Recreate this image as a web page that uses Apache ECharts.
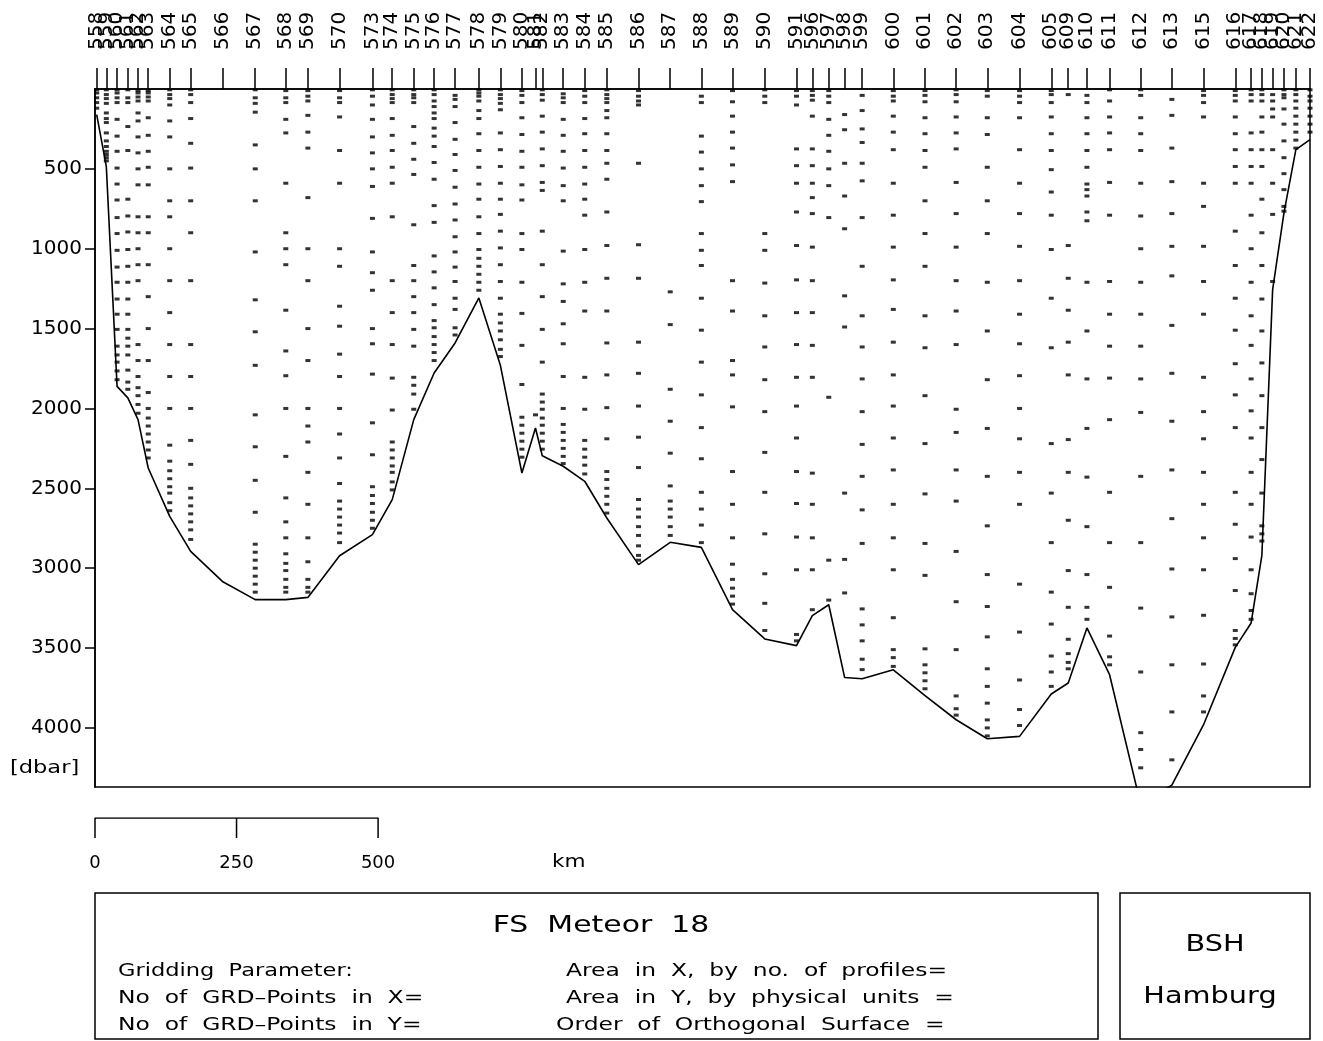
<!DOCTYPE html>
<html>
<head>
<meta charset="utf-8">
<script src="https://cdn.jsdelivr.net/npm/echarts@6/dist/echarts.min.js"></script>
<style>
html,body{margin:0;padding:0;background:#fff;}
#chart{width:1323px;height:1041px;}
</style>
</head>
<body>
<div id="chart"></div>
<script>
// Station numbers (top axis labels)
const stations = [558,559,560,561,562,563,564,565,566,567,568,569,570,573,574,575,576,577,578,579,
  580,581,582,583,584,585,586,587,588,589,590,591,596,597,598,599,600,
  601,602,603,604,605,609,610,611,612,613,615,616,617,618,619,620,621,622];
// Station distance along section (km)
const stationKm = [3,20,39,58,76,94,132,169,225,283,337,376,432,490,525,563,599,636,678,716,
  754,778,790,827,865,904,960,1016,1071,1126,1183,1239,1267,1296,1324,1355,1410,
  1466,1521,1576,1633,1689,1719,1752,1792,1847,1902,1958,2014,2042,2061,2080,2100,2121,2146];
// Bottom depth at each station (dbar)
const bottomDepth = [160,486,1862,1934,2070,2373,2676,2895,3083,3197,3197,3183,2922,2790,2571,2070,1778,1590,1308,1730,
  2404,2122,2296,2362,2456,2686,2978,2838,2870,3260,3443,3485,3297,3229,3684,3692,3636,
  3798,3949,4068,4053,3788,3719,3374,3667,4480,4358,3980,3496,3343,2920,1256,776,380,317];
// Sample depths per station (dbar)
const sampleDepths = [
  [5,25,55,85,120],
  [5,35,60,90,150,185,210,275,325,360,390,410,430,450],
  [5,25,55,85,190,295,390,495,595,695,805,905,1010,1115,1210,1315,1410,1505,1610,1665,1710,1765,1820],
  [5,55,85,235,385,690,795,895,1005,1110,1210,1315,1410,1505,1560,1610,1665,1760,1835,1880],
  [10,25,50,75,150,200,300,400,500,600,800,900,1000,1100,1200,1600,1700,1800,1870,1920,1975,2030],
  [10,25,50,75,180,290,390,490,600,800,900,1100,1300,1500,1700,1900,2000,2060,2110,2160,2210,2260,2310],
  [5,35,60,100,200,300,500,700,800,1000,1200,1400,1600,1800,2000,2230,2330,2390,2440,2490,2530,2590,2640],
  [5,35,85,185,340,495,700,900,1200,1600,1800,2000,2200,2350,2500,2560,2610,2660,2710,2760,2820],
  [],
  [5,55,90,145,350,500,700,1020,1320,1520,1730,2040,2240,2450,2650,2850,2900,2950,3000,3050,3100,3150],
  [10,55,85,190,275,590,900,1000,1100,1385,1640,1795,2000,2300,2560,2710,2810,2910,2970,3015,3070,3120,3150],
  [10,45,75,165,270,370,680,1000,1200,1500,1700,2000,2110,2210,2400,2600,2810,2960,3070,3120,3150],
  [10,55,85,175,385,590,1000,1110,1360,1485,1660,1800,2000,2160,2310,2470,2580,2630,2680,2730,2780,2840],
  [5,45,100,190,300,400,500,610,810,1020,1150,1260,1500,1595,1785,2090,2290,2490,2545,2595,2650,2700,2750],
  [5,35,60,85,185,290,385,490,590,800,1200,1400,1600,1810,2010,2210,2260,2310,2360,2400,2460,2510],
  [5,35,55,85,235,340,440,535,850,1105,1200,1300,1400,1505,1610,1805,1855,1910,2005],
  [5,35,75,110,150,185,245,295,360,460,565,730,835,1045,1145,1245,1350,1450,1495,1550,1600,1650,1700],
  [40,65,110,210,315,410,510,615,720,820,925,1020,1115,1205,1310,1380,1495,1540],
  [5,25,45,75,135,185,280,385,490,595,690,800,905,1005,1060,1110,1160,1210,1260],
  [5,35,60,90,130,275,380,485,590,690,785,890,995,1100,1205,1310,1410,1465,1515,1570,1630,1675],
  [10,40,85,180,285,390,490,600,695,905,1005,1210,1405,1605,1850,2055,2105,2155,2205,2255,2305],
  [2040],
  [5,35,70,170,270,375,480,585,635,890,1100,1300,1505,1710,1910,1960,2005,2060,2105,2155,2205,2255],
  [30,55,85,190,290,390,495,605,700,1015,1220,1330,1470,1595,1800,2000,2100,2150,2200,2250,2300,2345],
  [10,45,85,185,280,385,490,595,690,790,1005,1210,1390,1805,2005,2200,2255,2305,2355,2410],
  [5,35,60,85,135,180,280,385,465,565,770,980,1185,1390,1590,1790,1995,2190,2395,2445,2500,2550,2600,2655],
  [10,45,75,100,465,975,1185,1585,1780,1985,2180,2370,2570,2630,2680,2740,2795,2860,2920,2950],
  [1270,1475,1880,2080,2280,2485,2580,2630,2680,2740,2795],
  [45,85,295,395,500,605,705,905,1010,1105,1310,1510,1710,1915,2120,2315,2525,2630,2730,2840],
  [10,80,170,270,370,475,580,1200,1390,1700,1790,1990,2395,2600,2810,2975,3070,3125,3175,3225],
  [5,45,85,905,1010,1215,1420,1615,1820,2020,2275,2525,2785,3035,3220,3390],
  [10,45,100,375,480,590,770,980,1195,1400,1600,1805,1985,2185,2395,2595,2805,3010,3415,3455],
  [10,40,70,170,375,480,590,680,780,990,1200,1400,1605,1805,2405,2600,2810,3010,3260],
  [10,45,85,190,290,390,500,605,805,1930,2950,3200],
  [160,255,465,670,875,1295,1490,2530,2945,3155],
  [40,135,250,335,465,575,805,1110,1420,1615,1815,2020,2225,2425,2635,2845,3255,3355,3455,3570,3635],
  [10,45,75,170,270,380,590,790,990,1195,1380,1585,1790,1985,2185,2385,2600,2810,3010,3310,3510,3560,3615],
  [10,40,80,180,280,385,490,700,905,1110,1420,1620,1920,2220,2535,2845,3045,3505,3605,3655,3705,3755],
  [5,35,80,175,275,375,585,780,990,1200,1390,1600,2005,2150,2385,2580,2895,3210,3510,3800,3880,3920],
  [10,45,180,285,490,700,905,1210,1515,1820,2125,2425,2735,3040,3240,3430,3630,3740,3845,3950,4000,4050],
  [10,45,85,180,380,590,780,985,1200,1410,1595,1795,2000,2190,2400,2600,3100,3400,3700,3885,3985],
  [10,35,85,175,280,385,505,645,790,1005,1310,1620,2220,2530,2840,3150,3350,3550,3650,3740],
  [35,980,1185,1385,1585,1790,2195,2400,2700,3015,3245,3445,3535,3590,3630],
  [40,85,180,280,385,490,595,630,670,770,825,1210,1515,1815,2125,2430,2740,3040,3245,3320],
  [5,75,175,275,380,585,790,1205,1410,1610,1810,2070,2525,2840,3120,3425,3555,3605],
  [5,40,180,280,385,590,795,1000,1210,1410,1610,1815,2025,2425,2840,3250,3650,4030,4135,4250],
  [65,165,370,580,780,985,1170,1480,1780,2080,2385,2690,3005,3305,3605,3900,4200],
  [10,40,85,175,590,735,985,1205,1410,1805,2020,2190,2400,2600,2810,3010,3295,3600,3800,3900],
  [10,40,75,175,280,380,485,590,890,1105,1310,1510,1720,1915,2120,2525,2725,2940,3140,3390,3440,3480],
  [5,35,75,275,380,485,590,790,1000,1210,1420,1605,1815,2015,2185,2400,2600,2805,3010,3160,3265,3320],
  [5,35,75,175,270,380,485,690,900,1105,1315,1515,1715,1920,2120,2320,2530,2735,2785,2830],
  [35,75,125,175,380,590,785,1205],
  [5,35,55,125,220,325,430,530,630,735,765],
  [5,35,75,120,170,220,270,320,370],
  [5,45,75,120,170,220,270]
];
// Depth axis ticks and scale bar ticks
const depthTicks = [500,1000,1500,2000,2500,3000,3500,4000];
const scaleBarKm = [0,250,500];

const FONT = 'DejaVu Sans';
const samplePoints = [];
stations.forEach((s, i) => sampleDepths[i].forEach(d => samplePoints.push([stationKm[i], d])));
const bottomLine = stationKm.map((k, i) => [k, bottomDepth[i]]);
const scaleLine = [[scaleBarKm[0],0],[scaleBarKm[0],1],[scaleBarKm[2],1],[scaleBarKm[2],0]];
const scaleMid = [[scaleBarKm[1],1],[scaleBarKm[1],0]];
// blank guard labels (placed mid-axis) so the axis never drops the end station labels
const GUARD = 1073.5;
const stationLabelValues = [GUARD].concat(stationKm, [GUARD + 0.5]);

function txt(text, x, y, size, align, sx) {
  return {type: 'text', x: x, y: y, scaleX: sx, scaleY: 1,
    style: {text: text, fontFamily: FONT, fontSize: size, fill: '#000', align: align, verticalAlign: 'middle'}};
}

const chart = echarts.init(document.getElementById('chart'), null, {renderer: 'canvas'});
chart.setOption({
  animation: false,
  backgroundColor: '#fff',
  grid: [
    {left: 95, top: 89, width: 1215, height: 698, show: true, borderColor: '#000', borderWidth: 1.5, backgroundColor: 'transparent'},
    {left: 95, top: 818, width: 1215, height: 20, show: false}
  ],
  xAxis: [
    {
      type: 'value', gridIndex: 0, position: 'top', min: 0, max: 2146,
      axisLine: {show: true, lineStyle: {color: '#000', width: 1.5}},
      axisTick: {show: true, customValues: stationKm, length: 21, inside: false, lineStyle: {color: '#000', width: 1.5}},
      axisLabel: {show: true, customValues: stationLabelValues, rotate: 90, margin: 39, hideOverlap: false,
        fontFamily: FONT, fontSize: 20, color: '#000',
        formatter: v => { const i = stationKm.indexOf(v); return i < 0 ? ' ' : String(stations[i]); }},
      splitLine: {show: false}
    },
    {
      type: 'value', gridIndex: 0, position: 'bottom', min: 0, max: 2146,
      axisLine: {show: false}, axisTick: {show: false}, axisLabel: {show: false}, splitLine: {show: false}
    },
    {
      type: 'value', gridIndex: 1, position: 'bottom', min: 0, max: 2146,
      axisLine: {show: false}, axisTick: {show: false}, splitLine: {show: false},
      axisLabel: {show: true, customValues: scaleBarKm, margin: 16, fontFamily: FONT, fontSize: 18, color: '#000',
        showMinLabel: true, formatter: v => String(v)}
    }
  ],
  yAxis: [
    {
      type: 'value', gridIndex: 0, inverse: true, min: 0, max: 4370, interval: 500,
      axisLine: {show: true, lineStyle: {color: '#000', width: 1.5}},
      axisTick: {show: true, length: 10, inside: false, customValues: depthTicks, lineStyle: {color: '#000', width: 1.5}},
      axisLabel: {show: true, customValues: depthTicks, margin: 13, fontFamily: FONT, fontSize: 20, color: '#000',
        formatter: v => String(v)},
      splitLine: {show: false}
    },
    {type: 'value', gridIndex: 1, min: 0, max: 1, show: false}
  ],
  series: [
    {
      type: 'scatter', xAxisIndex: 0, yAxisIndex: 0, data: samplePoints,
      symbol: 'rect', symbolSize: [5, 3], itemStyle: {color: '#000'}, silent: true
    },
    {
      type: 'line', xAxisIndex: 0, yAxisIndex: 0, data: bottomLine, clip: true,
      showSymbol: false, symbol: 'none', lineStyle: {color: '#000', width: 1.6}, silent: true
    },
    {
      type: 'line', xAxisIndex: 2, yAxisIndex: 1, data: scaleLine,
      showSymbol: false, symbol: 'none', lineStyle: {color: '#000', width: 1.5}, silent: true
    },
    {
      type: 'line', xAxisIndex: 2, yAxisIndex: 1, data: scaleMid,
      showSymbol: false, symbol: 'none', lineStyle: {color: '#000', width: 1.5}, silent: true
    }
  ],
  graphic: [
    txt('[dbar]', 10, 768, 18, 'left', 1.25),
    txt('km', 552, 862, 18, 'left', 1.2),
    {type: 'rect', shape: {x: 95, y: 893, width: 1003, height: 146}, style: {fill: 'none', stroke: '#000', lineWidth: 1.5}},
    {type: 'rect', shape: {x: 1120, y: 893, width: 190, height: 146}, style: {fill: 'none', stroke: '#000', lineWidth: 1.5}},
    txt('FS  Meteor  18', 601, 926, 23, 'center', 1.3),
    txt('Gridding  Parameter:', 118, 971, 18, 'left', 1.25),
    txt('No  of  GRD–Points  in  X=', 118, 998, 18, 'left', 1.3),
    txt('No  of  GRD–Points  in  Y=', 118, 1025, 18, 'left', 1.3),
    txt('Area  in  X,  by  no.  of  profiles=', 566, 971, 18, 'left', 1.3),
    txt('Area  in  Y,  by  physical  units  =', 566, 998, 18, 'left', 1.3),
    txt('Order  of  Orthogonal  Surface  =', 556, 1025, 18, 'left', 1.3),
    txt('BSH', 1215, 945, 23, 'center', 1.25),
    txt('Hamburg', 1210, 997, 23, 'center', 1.25)
  ]
});
</script>
</body>
</html>
